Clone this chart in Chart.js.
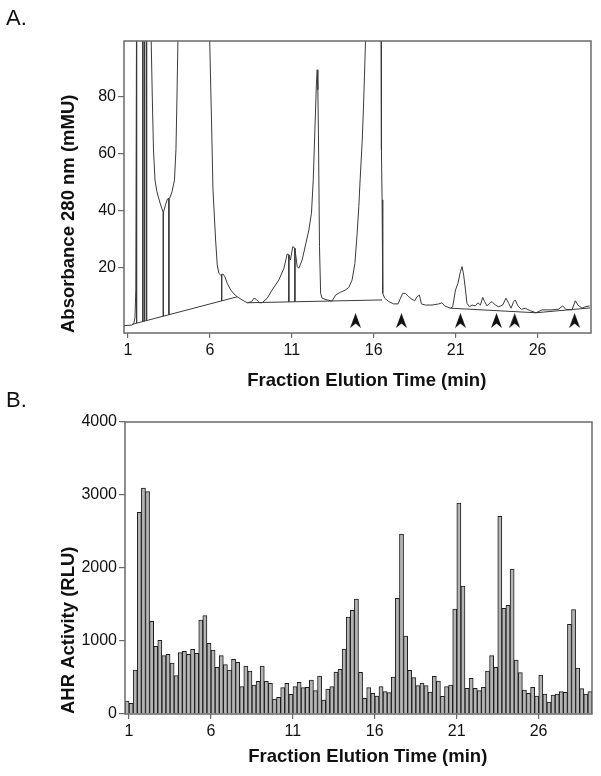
<!DOCTYPE html>
<html>
<head>
<meta charset="utf-8">
<script src="https://cdn.jsdelivr.net/npm/chart.js@4.4.1/dist/chart.umd.min.js"></script>
<style>
  html, body { margin: 0; padding: 0; background: #fff; }
  #wrap { position: relative; width: 601px; height: 776px; overflow: hidden; }
  .panel { position: absolute; left: 0; width: 601px; }
  .tag { position: absolute; left: 6px; font: 22px "Liberation Sans", Arial, sans-serif; line-height: 22px; color: #111; }
</style>
</head>
<body>
<div id="wrap">
  <div class="panel" style="top:0;height:395px"><canvas id="chartA" width="601" height="395"></canvas></div>
  <div class="panel" style="top:395px;height:381px"><canvas id="chartB" width="601" height="381"></canvas></div>
  <div class="tag" style="top:7px">A.</div>
  <div class="tag" style="top:389px">B.</div>
</div>
<script>
// ---------- shared axis data ----------
const tickMinutes = [1, 6, 11, 16, 21, 26];
const xAxisTitle = 'Fraction Elution Time (min)';
const axisMin = 0.76;
const axisMax = 29.26;

// ---------- panel A: chromatogram (absorbance 280 nm, mMU) ----------
const absTicks = [20, 40, 60, 80];
const absTitle = 'Absorbance 280 nm (mMU)';
const traceTime = [0.76, 1.27, 1.37, 1.43, 1.48, 1.52, 1.55, 2.38, 2.42, 2.49, 2.56, 2.65, 2.77, 2.96, 3.16, 3.29, 3.41, 3.56, 3.69, 3.84, 3.93, 3.99, 4.05, 4.08, 5.96, 5.99, 6.10, 6.19, 6.35, 6.45, 6.55, 6.66, 6.80, 6.92, 7.06, 7.27, 7.47, 7.67, 7.97, 8.28, 8.55, 8.69, 8.83, 9.03, 9.19, 9.50, 9.80, 10.21, 10.52, 10.72, 10.82, 10.92, 11.06, 11.19, 11.33, 11.43, 11.63, 11.84, 12.04, 12.20, 12.31, 12.41, 12.50, 12.55, 12.59, 12.63, 12.69, 12.76, 12.85, 13.16, 13.46, 13.67, 13.97, 14.28, 14.48, 14.68, 14.85, 14.99, 15.09, 15.17, 15.30, 15.39, 15.50, 15.53, 16.40, 16.45, 16.47, 16.51, 16.55, 16.67, 16.92, 17.22, 17.49, 17.63, 17.77, 17.94, 18.14, 18.34, 18.50, 18.64, 18.79, 18.91, 19.16, 19.56, 19.97, 20.17, 20.33, 20.68, 20.82, 20.99, 21.14, 21.29, 21.39, 21.49, 21.60, 21.69, 21.84, 22.00, 22.20, 22.36, 22.51, 22.65, 22.77, 22.91, 23.06, 23.22, 23.42, 23.63, 23.87, 24.07, 24.24, 24.38, 24.54, 24.64, 24.80, 25.01, 25.25, 25.56, 25.90, 26.27, 26.88, 27.29, 27.53, 27.73, 28.10, 28.30, 28.46, 28.71, 28.91, 29.17];
const traceAbs = [-0.25, 0, 0.9, 2.5, 12.3, 99.6, 130, 130, 99.6, 78.9, 61.4, 50.9, 46.7, 42.8, 39.3, 42.1, 44.2, 44.6, 46.7, 50.9, 61.4, 78.9, 99.6, 130, 130, 99.6, 71.9, 47.4, 29.8, 21.1, 18.1, 17.5, 17.9, 16.9, 14.6, 12.3, 10.9, 9.9, 8.8, 7.8, 8.2, 9.4, 9.0, 7.8, 7.8, 9.4, 12.3, 15.8, 19.9, 24.9, 24.6, 22.8, 27.5, 26.9, 20.5, 19.9, 22.8, 28.1, 33.3, 39.2, 50.9, 68.4, 84.2, 89.5, 82.5, 64.9, 27.5, 11.1, 9.4, 8.8, 8.4, 10.5, 11.5, 12.3, 13.2, 15.8, 21.6, 32.2, 41.5, 50.9, 64.9, 78.9, 99.6, 130, 130, 99.6, 61.4, 43.9, 11.1, 9.4, 8.2, 7.4, 7.4, 9.4, 11.1, 11.1, 9.9, 9.0, 8.5, 9.9, 10.5, 7.4, 7.0, 7.0, 7.4, 7.8, 6.7, 5.9, 6.4, 12.3, 14.6, 18.7, 20.5, 17.5, 12.3, 7.6, 6.4, 7.0, 6.7, 7.8, 7.0, 9.7, 8.2, 6.7, 7.6, 8.2, 7.0, 6.4, 7.0, 9.4, 7.6, 5.9, 8.2, 8.8, 6.7, 5.5, 5.9, 5.0, 4.3, 5.3, 5.3, 5.6, 6.7, 5.5, 5.3, 8.5, 7.0, 5.9, 6.4, 6.7];
// integration baseline segments (null separates segments)
const baselineTime = [1.27, 7.67, null, 8.28, 16.51, null, 20.68, 25.90, 29.20];
const baselineAbs  = [0.25, 9.9, null, 7.8, 8.8, null, 5.9, 4.3, 6.0];
// peak drop lines
const dropTime   = [1.53, 1.91, 2.02, 2.14, 3.16, 3.50, 6.72, 10.82, 11.19];
const dropTop    = [130, 130, 130, 130, 39.3, 44.4, 17.6, 24.6, 26.9];
const dropBottom = [0.67, 1.26, 1.4, 1.6, 3.1, 3.6, 8.5, 8.1, 8.2];
// arrowhead markers
const markerTime = [14.89, 17.69, 21.29, 23.49, 24.60, 28.26];
const markerAbs  = [1.4, 1.4, 1.4, 1.4, 1.4, 1.4];

// ---------- panel B: AHR activity per fraction (RLU) ----------
const ahrTicks = [0, 1000, 2000, 3000, 4000];
const ahrTitle = 'AHR Activity (RLU)';
const fractionStart = 0.76;   // left edge of first fraction (min)
const fractionWidth = 0.25;   // fraction length (min)
const ahrActivity = [178, 146, 603, 2763, 3096, 3046, 1269, 927, 1009, 799,
  817, 699, 525, 840, 858, 817, 886, 831, 1288, 1347,
  968, 877, 639, 799, 676, 603, 749, 708, 374, 658,
  589, 397, 447, 658, 447, 420, 205, 228, 361, 420,
  269, 374, 434, 361, 365, 466, 320, 520, 192, 342,
  374, 575, 612, 890, 1329, 1420, 1575, 571, 215, 361,
  283, 247, 374, 306, 292, 507, 1584, 2466, 1068, 598,
  498, 388, 425, 388, 301, 516, 452, 242, 374, 397,
  1438, 2890, 1753, 352, 489, 352, 320, 365, 589, 799,
  639, 2708, 1447, 1489, 1986, 740, 566, 329, 283, 365,
  247, 534, 274, 164, 260, 274, 306, 297, 1228, 1429,
  630, 347, 274, 306];

// ---------- styling helpers ----------
const FONT = '"Liberation Sans", Arial, Helvetica, sans-serif';
const AXIS_COLOR = '#6a6a6a';
const TEXT_COLOR = '#111';
const LINE_COLOR = '#3a3a3a';

const framePlugin = {
  id: 'frame',
  afterDatasetsDraw(chart) {
    const { ctx, chartArea: a } = chart;
    ctx.save();
    ctx.strokeStyle = AXIS_COLOR;
    ctx.lineWidth = 1.5;
    ctx.strokeRect(a.left, a.top, a.right - a.left, a.bottom - a.top);
    ctx.restore();
  }
};

function chevron() {
  const c = document.createElement('canvas');
  c.width = 11; c.height = 16;
  const g = c.getContext('2d');
  g.fillStyle = '#111';
  g.beginPath();
  g.moveTo(5.5, 0); g.lineTo(11, 15); g.lineTo(5.5, 10.5); g.lineTo(0, 15);
  g.closePath(); g.fill();
  return c;
}

function xScale(axisHeight, titlePadBottom) {
  return {
    type: 'linear', min: axisMin, max: axisMax, offset: false,
    afterBuildTicks: s => { s.ticks = tickMinutes.map(v => ({ value: v })); },
    afterFit: s => { s.height = axisHeight; },
    grid: { display: true, offset: false, drawOnChartArea: false, drawTicks: true, tickLength: 5, color: AXIS_COLOR, lineWidth: 1.2 },
    border: { display: false },
    ticks: { font: { family: FONT, size: 16 }, color: TEXT_COLOR, padding: 3, maxRotation: 0, autoSkip: false, callback: v => String(v) },
    title: { display: true, text: '\u2003' + xAxisTitle, color: TEXT_COLOR, font: { family: FONT, size: 18.5, weight: 'bold' }, padding: { top: 0, bottom: titlePadBottom } }
  };
}

function yScale(min, max, ticks, title, width) {
  return {
    min: min, max: max,
    afterBuildTicks: s => { s.ticks = ticks.map(v => ({ value: v })); },
    afterFit: s => { s.width = width; },
    grid: { display: true, drawOnChartArea: false, drawTicks: true, tickLength: 6, color: AXIS_COLOR, lineWidth: 1.2 },
    border: { display: false },
    ticks: { font: { family: FONT, size: 16 }, color: TEXT_COLOR, padding: 2, callback: v => String(v) },
    title: { display: true, text: title, align: 'start', color: TEXT_COLOR, font: { family: FONT, size: 18.5, weight: 'bold' }, padding: { top: 58, bottom: 0 } }
  };
}

const pts = (xs, ys) => xs.map((x, i) => (x === null ? { x: NaN, y: null } : { x: x, y: ys[i] }));
const dropPts = [];
dropTime.forEach((t, i) => { dropPts.push({ x: t, y: dropTop[i] }, { x: t, y: dropBottom[i] }, { x: t, y: null }); });

const common = {
  responsive: false,
  animation: false,
  events: [],
  plugins: { legend: { display: false }, tooltip: { enabled: false } }
};

new Chart(document.getElementById('chartA'), {
  type: 'scatter',
  data: {
    datasets: [
      { data: pts(traceTime, traceAbs), showLine: true, borderColor: LINE_COLOR, borderWidth: 1, pointRadius: 0, tension: 0 },
      { data: pts(baselineTime, baselineAbs), showLine: true, spanGaps: false, borderColor: LINE_COLOR, borderWidth: 1, pointRadius: 0 },
      { data: dropPts, showLine: true, spanGaps: false, borderColor: LINE_COLOR, borderWidth: 1, pointRadius: 0 },
      { data: pts(markerTime, markerAbs), showLine: false, pointStyle: chevron(), pointRadius: 6 }
    ]
  },
  options: Object.assign({}, common, {
    layout: { padding: { top: 41, right: 10, left: 0, bottom: 0 } },
    scales: {
      x: xScale(62, 3),
      y: yScale(-2.8, 99.6, absTicks, absTitle, 124)
    }
  }),
  plugins: [framePlugin]
});

new Chart(document.getElementById('chartB'), {
  type: 'bar',
  data: {
    datasets: [{
      data: ahrActivity.map((v, i) => ({ x: fractionStart + fractionWidth * (i + 0.5), y: v })),
      backgroundColor: '#b4b4b4', borderColor: '#1c1c1c', borderWidth: 1,
      barPercentage: 1, categoryPercentage: 1
    }]
  },
  options: Object.assign({}, common, {
    layout: { padding: { top: 27, right: 9, left: 0, bottom: 0 } },
    scales: {
      x: xScale(62, 8),
      y: yScale(0, 4000, ahrTicks, ahrTitle, 125)
    }
  }),
  plugins: [framePlugin]
});
</script>
</body>
</html>
